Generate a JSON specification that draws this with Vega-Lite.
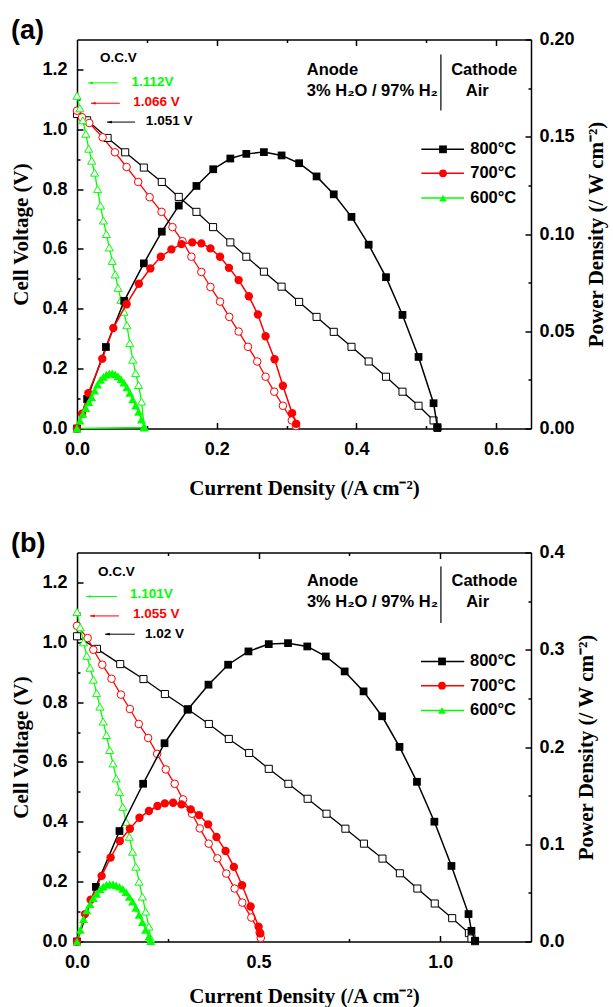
{
"$schema":"https://vega.github.io/schema/vega-lite/v6.json",
"padding":{"left":10,"top":16.5,"right":2,"bottom":2},
"spacing":31,
"config":{
 "view":{"stroke":null},
 "axis":{"labelFont":"Liberation Sans","labelFontWeight":"bold","labelFontSize":18,"labelColor":"#000","titleFont":"Liberation Serif","titleFontWeight":"bold","titleFontSize":21,"titleColor":"#000","domainColor":"#000","domainWidth":1.5,"tickColor":"#000","tickWidth":1.5,"grid":false,"labelFlush":false,"labelOverlap":false}
},
"datasets":{
 "a":[
  {"T":"800","s":"V","I":0,"y":1.051},{"T":"800","s":"V","I":0.0145,"y":1.03},{"T":"800","s":"V","I":0.0438,"y":0.971},{"T":"800","s":"V","I":0.069,"y":0.923},{"T":"800","s":"V","I":0.0957,"y":0.872},{"T":"800","s":"V","I":0.1214,"y":0.824},{"T":"800","s":"V","I":0.1457,"y":0.774},{"T":"800","s":"V","I":0.171,"y":0.724},{"T":"800","s":"V","I":0.1948,"y":0.673},{"T":"800","s":"V","I":0.2195,"y":0.622},{"T":"800","s":"V","I":0.2424,"y":0.574},{"T":"800","s":"V","I":0.2676,"y":0.524},{"T":"800","s":"V","I":0.2929,"y":0.474},{"T":"800","s":"V","I":0.318,"y":0.423},{"T":"800","s":"V","I":0.343,"y":0.373},{"T":"800","s":"V","I":0.3676,"y":0.323},{"T":"800","s":"V","I":0.393,"y":0.273},{"T":"800","s":"V","I":0.4176,"y":0.224},{"T":"800","s":"V","I":0.4424,"y":0.173},{"T":"800","s":"V","I":0.466,"y":0.123},{"T":"800","s":"V","I":0.489,"y":0.076},{"T":"800","s":"V","I":0.5105,"y":0.027},{"T":"800","s":"V","I":0.516,"y":0.002},
  {"T":"800","s":"P","I":0,"y":0},{"T":"800","s":"P","I":0.0145,"y":0.0152},{"T":"800","s":"P","I":0.0414,"y":0.0419},{"T":"800","s":"P","I":0.0676,"y":0.0656},{"T":"800","s":"P","I":0.0957,"y":0.0849},{"T":"800","s":"P","I":0.1214,"y":0.1012},{"T":"800","s":"P","I":0.1457,"y":0.1146},{"T":"800","s":"P","I":0.171,"y":0.1247},{"T":"800","s":"P","I":0.195,"y":0.1333},{"T":"800","s":"P","I":0.2195,"y":0.1388},{"T":"800","s":"P","I":0.2424,"y":0.1412},{"T":"800","s":"P","I":0.2676,"y":0.1421},{"T":"800","s":"P","I":0.2929,"y":0.1404},{"T":"800","s":"P","I":0.318,"y":0.1364},{"T":"800","s":"P","I":0.343,"y":0.1296},{"T":"800","s":"P","I":0.3676,"y":0.1204},{"T":"800","s":"P","I":0.393,"y":0.1088},{"T":"800","s":"P","I":0.4176,"y":0.0945},{"T":"800","s":"P","I":0.4424,"y":0.0778},{"T":"800","s":"P","I":0.466,"y":0.0584},{"T":"800","s":"P","I":0.489,"y":0.0368},{"T":"800","s":"P","I":0.5105,"y":0.013},{"T":"800","s":"P","I":0.516,"y":0.0007},
  {"T":"700","s":"V","I":0,"y":1.062},{"T":"700","s":"V","I":0.0072,"y":1.04},{"T":"700","s":"V","I":0.0176,"y":1.021},{"T":"700","s":"V","I":0.0367,"y":0.973},{"T":"700","s":"V","I":0.0543,"y":0.923},{"T":"700","s":"V","I":0.071,"y":0.874},{"T":"700","s":"V","I":0.0876,"y":0.824},{"T":"700","s":"V","I":0.104,"y":0.773},{"T":"700","s":"V","I":0.121,"y":0.724},{"T":"700","s":"V","I":0.1367,"y":0.673},{"T":"700","s":"V","I":0.151,"y":0.626},{"T":"700","s":"V","I":0.1638,"y":0.574},{"T":"700","s":"V","I":0.178,"y":0.523},{"T":"700","s":"V","I":0.191,"y":0.473},{"T":"700","s":"V","I":0.2048,"y":0.424},{"T":"700","s":"V","I":0.218,"y":0.373},{"T":"700","s":"V","I":0.2314,"y":0.324},{"T":"700","s":"V","I":0.2448,"y":0.273},{"T":"700","s":"V","I":0.258,"y":0.224},{"T":"700","s":"V","I":0.27,"y":0.173},{"T":"700","s":"V","I":0.2824,"y":0.123},{"T":"700","s":"V","I":0.2948,"y":0.076},{"T":"700","s":"V","I":0.3076,"y":0.027},{"T":"700","s":"V","I":0.3135,"y":0.008},
  {"T":"700","s":"P","I":0,"y":0},{"T":"700","s":"P","I":0.0072,"y":0.0076},{"T":"700","s":"P","I":0.0162,"y":0.0182},{"T":"700","s":"P","I":0.0362,"y":0.0359},{"T":"700","s":"P","I":0.052,"y":0.0517},{"T":"700","s":"P","I":0.071,"y":0.0639},{"T":"700","s":"P","I":0.0886,"y":0.0744},{"T":"700","s":"P","I":0.105,"y":0.0823},{"T":"700","s":"P","I":0.12,"y":0.0883},{"T":"700","s":"P","I":0.1352,"y":0.0921},{"T":"700","s":"P","I":0.1495,"y":0.0948},{"T":"700","s":"P","I":0.165,"y":0.0957},{"T":"700","s":"P","I":0.178,"y":0.0952},{"T":"700","s":"P","I":0.191,"y":0.0926},{"T":"700","s":"P","I":0.2048,"y":0.0883},{"T":"700","s":"P","I":0.2176,"y":0.0826},{"T":"700","s":"P","I":0.2314,"y":0.0763},{"T":"700","s":"P","I":0.246,"y":0.068},{"T":"700","s":"P","I":0.259,"y":0.0586},{"T":"700","s":"P","I":0.27,"y":0.0474},{"T":"700","s":"P","I":0.2829,"y":0.0356},{"T":"700","s":"P","I":0.2948,"y":0.022},{"T":"700","s":"P","I":0.308,"y":0.0079},{"T":"700","s":"P","I":0.3138,"y":0.0024},
  {"T":"600","s":"V","I":0,"y":1.112},{"T":"600","s":"V","I":0.0042,"y":1.07},{"T":"600","s":"V","I":0.0084,"y":1.03},{"T":"600","s":"V","I":0.0126,"y":0.985},{"T":"600","s":"V","I":0.0168,"y":0.935},{"T":"600","s":"V","I":0.021,"y":0.895},{"T":"600","s":"V","I":0.0252,"y":0.855},{"T":"600","s":"V","I":0.0294,"y":0.8},{"T":"600","s":"V","I":0.0336,"y":0.745},{"T":"600","s":"V","I":0.0378,"y":0.695},{"T":"600","s":"V","I":0.042,"y":0.65},{"T":"600","s":"V","I":0.0462,"y":0.605},{"T":"600","s":"V","I":0.0504,"y":0.56},{"T":"600","s":"V","I":0.0546,"y":0.515},{"T":"600","s":"V","I":0.0588,"y":0.47},{"T":"600","s":"V","I":0.063,"y":0.43},{"T":"600","s":"V","I":0.0672,"y":0.39},{"T":"600","s":"V","I":0.0714,"y":0.345},{"T":"600","s":"V","I":0.0756,"y":0.285},{"T":"600","s":"V","I":0.0798,"y":0.23},{"T":"600","s":"V","I":0.084,"y":0.185},{"T":"600","s":"V","I":0.0882,"y":0.145},{"T":"600","s":"V","I":0.0924,"y":0.09},{"T":"600","s":"V","I":0.0962,"y":0.005},
  {"T":"600","s":"P","I":0,"y":0},{"T":"600","s":"P","I":0.0042,"y":0.004},{"T":"600","s":"P","I":0.0084,"y":0.0075},{"T":"600","s":"P","I":0.0126,"y":0.0105},{"T":"600","s":"P","I":0.0168,"y":0.0135},{"T":"600","s":"P","I":0.021,"y":0.016},{"T":"600","s":"P","I":0.0252,"y":0.0195},{"T":"600","s":"P","I":0.0294,"y":0.0225},{"T":"600","s":"P","I":0.0336,"y":0.025},{"T":"600","s":"P","I":0.0378,"y":0.0266},{"T":"600","s":"P","I":0.042,"y":0.0277},{"T":"600","s":"P","I":0.0462,"y":0.0283},{"T":"600","s":"P","I":0.0504,"y":0.0283},{"T":"600","s":"P","I":0.0546,"y":0.0278},{"T":"600","s":"P","I":0.0588,"y":0.0268},{"T":"600","s":"P","I":0.063,"y":0.0254},{"T":"600","s":"P","I":0.0672,"y":0.0236},{"T":"600","s":"P","I":0.0714,"y":0.0212},{"T":"600","s":"P","I":0.0756,"y":0.0183},{"T":"600","s":"P","I":0.0798,"y":0.015},{"T":"600","s":"P","I":0.084,"y":0.0118},{"T":"600","s":"P","I":0.0882,"y":0.0085},{"T":"600","s":"P","I":0.0924,"y":0.0045},{"T":"600","s":"P","I":0.0962,"y":0.0005},{"T":"600","s":"P","I":0,"y":0}
 ],
 "b":[
  {"T":"800","s":"V","I":0,"y":1.02},{"T":"800","s":"V","I":0.055,"y":0.978},{"T":"800","s":"V","I":0.119,"y":0.927},{"T":"800","s":"V","I":0.183,"y":0.877},{"T":"800","s":"V","I":0.242,"y":0.827},{"T":"800","s":"V","I":0.305,"y":0.776},{"T":"800","s":"V","I":0.363,"y":0.727},{"T":"800","s":"V","I":0.418,"y":0.677},{"T":"800","s":"V","I":0.474,"y":0.63},{"T":"800","s":"V","I":0.528,"y":0.577},{"T":"800","s":"V","I":0.582,"y":0.527},{"T":"800","s":"V","I":0.635,"y":0.477},{"T":"800","s":"V","I":0.687,"y":0.427},{"T":"800","s":"V","I":0.739,"y":0.377},{"T":"800","s":"V","I":0.79,"y":0.327},{"T":"800","s":"V","I":0.841,"y":0.277},{"T":"800","s":"V","I":0.889,"y":0.228},{"T":"800","s":"V","I":0.937,"y":0.177},{"T":"800","s":"V","I":0.985,"y":0.127},{"T":"800","s":"V","I":1.033,"y":0.078},{"T":"800","s":"V","I":1.079,"y":0.028},{"T":"800","s":"V","I":1.086,"y":0.01},{"T":"800","s":"V","I":1.096,"y":0.001},
  {"T":"800","s":"P","I":0,"y":0},{"T":"800","s":"P","I":0.052,"y":0.0562},{"T":"800","s":"P","I":0.117,"y":0.1136},{"T":"800","s":"P","I":0.182,"y":0.1622},{"T":"800","s":"P","I":0.241,"y":0.2039},{"T":"800","s":"P","I":0.305,"y":0.2385},{"T":"800","s":"P","I":0.362,"y":0.2641},{"T":"800","s":"P","I":0.416,"y":0.2846},{"T":"800","s":"P","I":0.472,"y":0.2983},{"T":"800","s":"P","I":0.528,"y":0.3058},{"T":"800","s":"P","I":0.581,"y":0.3068},{"T":"800","s":"P","I":0.634,"y":0.3034},{"T":"800","s":"P","I":0.685,"y":0.2931},{"T":"800","s":"P","I":0.737,"y":0.2777},{"T":"800","s":"P","I":0.789,"y":0.2572},{"T":"800","s":"P","I":0.84,"y":0.2316},{"T":"800","s":"P","I":0.888,"y":0.2001},{"T":"800","s":"P","I":0.936,"y":0.1642},{"T":"800","s":"P","I":0.984,"y":0.1232},{"T":"800","s":"P","I":1.031,"y":0.0777},{"T":"800","s":"P","I":1.078,"y":0.0282},{"T":"800","s":"P","I":1.086,"y":0.011},{"T":"800","s":"P","I":1.096,"y":0.0008},
  {"T":"700","s":"V","I":0,"y":1.055},{"T":"700","s":"V","I":0.0293,"y":1.014},{"T":"700","s":"V","I":0.045,"y":0.975},{"T":"700","s":"V","I":0.0696,"y":0.925},{"T":"700","s":"V","I":0.095,"y":0.878},{"T":"700","s":"V","I":0.121,"y":0.825},{"T":"700","s":"V","I":0.1456,"y":0.777},{"T":"700","s":"V","I":0.17,"y":0.727},{"T":"700","s":"V","I":0.196,"y":0.68},{"T":"700","s":"V","I":0.2207,"y":0.627},{"T":"700","s":"V","I":0.2445,"y":0.575},{"T":"700","s":"V","I":0.269,"y":0.527},{"T":"700","s":"V","I":0.292,"y":0.475},{"T":"700","s":"V","I":0.3168,"y":0.427},{"T":"700","s":"V","I":0.338,"y":0.378},{"T":"700","s":"V","I":0.3626,"y":0.327},{"T":"700","s":"V","I":0.3865,"y":0.278},{"T":"700","s":"V","I":0.411,"y":0.227},{"T":"700","s":"V","I":0.434,"y":0.177},{"T":"700","s":"V","I":0.455,"y":0.13},{"T":"700","s":"V","I":0.48,"y":0.08},{"T":"700","s":"V","I":0.503,"y":0.03},{"T":"700","s":"V","I":0.506,"y":0.012},
  {"T":"700","s":"P","I":0,"y":0},{"T":"700","s":"P","I":0.022,"y":0.0282},{"T":"700","s":"P","I":0.0376,"y":0.0429},{"T":"700","s":"P","I":0.0678,"y":0.0675},{"T":"700","s":"P","I":0.0925,"y":0.0863},{"T":"700","s":"P","I":0.118,"y":0.1034},{"T":"700","s":"P","I":0.1456,"y":0.1159},{"T":"700","s":"P","I":0.172,"y":0.1272},{"T":"700","s":"P","I":0.198,"y":0.1342},{"T":"700","s":"P","I":0.2216,"y":0.1393},{"T":"700","s":"P","I":0.2418,"y":0.142},{"T":"700","s":"P","I":0.2646,"y":0.1427},{"T":"700","s":"P","I":0.2876,"y":0.141},{"T":"700","s":"P","I":0.313,"y":0.1359},{"T":"700","s":"P","I":0.336,"y":0.13},{"T":"700","s":"P","I":0.361,"y":0.1205},{"T":"700","s":"P","I":0.384,"y":0.1075},{"T":"700","s":"P","I":0.409,"y":0.0931},{"T":"700","s":"P","I":0.432,"y":0.0767},{"T":"700","s":"P","I":0.4545,"y":0.0578},{"T":"700","s":"P","I":0.478,"y":0.036},{"T":"700","s":"P","I":0.5,"y":0.0152},{"T":"700","s":"P","I":0.5046,"y":0.0083},
  {"T":"600","s":"V","I":0,"y":1.101},{"T":"600","s":"V","I":0.009,"y":1.05},{"T":"600","s":"V","I":0.018,"y":1.0},{"T":"600","s":"V","I":0.027,"y":0.955},{"T":"600","s":"V","I":0.036,"y":0.915},{"T":"600","s":"V","I":0.045,"y":0.875},{"T":"600","s":"V","I":0.054,"y":0.83},{"T":"600","s":"V","I":0.063,"y":0.785},{"T":"600","s":"V","I":0.072,"y":0.735},{"T":"600","s":"V","I":0.081,"y":0.69},{"T":"600","s":"V","I":0.09,"y":0.64},{"T":"600","s":"V","I":0.099,"y":0.595},{"T":"600","s":"V","I":0.108,"y":0.545},{"T":"600","s":"V","I":0.117,"y":0.5},{"T":"600","s":"V","I":0.126,"y":0.45},{"T":"600","s":"V","I":0.135,"y":0.4},{"T":"600","s":"V","I":0.144,"y":0.35},{"T":"600","s":"V","I":0.153,"y":0.3},{"T":"600","s":"V","I":0.162,"y":0.25},{"T":"600","s":"V","I":0.171,"y":0.2},{"T":"600","s":"V","I":0.18,"y":0.15},{"T":"600","s":"V","I":0.189,"y":0.1},{"T":"600","s":"V","I":0.198,"y":0.05},{"T":"600","s":"V","I":0.203,"y":0.01},
  {"T":"600","s":"P","I":0,"y":0},{"T":"600","s":"P","I":0.009,"y":0.012},{"T":"600","s":"P","I":0.018,"y":0.023},{"T":"600","s":"P","I":0.027,"y":0.032},{"T":"600","s":"P","I":0.036,"y":0.0385},{"T":"600","s":"P","I":0.045,"y":0.0445},{"T":"600","s":"P","I":0.054,"y":0.049},{"T":"600","s":"P","I":0.063,"y":0.0535},{"T":"600","s":"P","I":0.072,"y":0.0565},{"T":"600","s":"P","I":0.081,"y":0.0583},{"T":"600","s":"P","I":0.09,"y":0.059},{"T":"600","s":"P","I":0.099,"y":0.0588},{"T":"600","s":"P","I":0.108,"y":0.0578},{"T":"600","s":"P","I":0.117,"y":0.0563},{"T":"600","s":"P","I":0.126,"y":0.0541},{"T":"600","s":"P","I":0.135,"y":0.0508},{"T":"600","s":"P","I":0.144,"y":0.046},{"T":"600","s":"P","I":0.153,"y":0.041},{"T":"600","s":"P","I":0.162,"y":0.0345},{"T":"600","s":"P","I":0.171,"y":0.0275},{"T":"600","s":"P","I":0.18,"y":0.02},{"T":"600","s":"P","I":0.189,"y":0.012},{"T":"600","s":"P","I":0.198,"y":0.005},{"T":"600","s":"P","I":0.203,"y":0.0005}
 ],
 "annA":[{"txt":"O.C.V","I":0.033,"V":1.237,"T":"800"},{"txt":"1.112V","I":0.078,"V":1.157,"T":"600"},{"txt":"1.066 V","I":0.0805,"V":1.09,"T":"700"},{"txt":"1.051 V","I":0.0986,"V":1.027,"T":"800"}],
 "arrA":[{"I":0.016,"I2":0.0586,"V":1.155,"T":"600"},{"I":0.02,"I2":0.0614,"V":1.087,"T":"700"},{"I":0.043,"I2":0.083,"V":1.024,"T":"800"}],
 "boxA":[{"txt":"Anode","I":0.329,"V":1.199,"g":"l"},{"txt":"3% H₂O / 97% H₂","I":0.329,"V":1.127,"g":"l"},{"txt":"Cathode","I":0.583,"V":1.199,"g":"c"},{"txt":"Air","I":0.573,"V":1.127,"g":"c"}],
 "divA":[{"I":0.521,"V":1.063,"V2":1.25}],
 "legA":[{"T":"800","lab":"800°C","V":0.933},{"T":"700","lab":"700°C","V":0.853},{"T":"600","lab":"600°C","V":0.77}],
 "annB":[{"txt":"O.C.V","I":0.0577,"V":1.236,"T":"800"},{"txt":"1.101V","I":0.1456,"V":1.16,"T":"600"},{"txt":"1.055 V","I":0.154,"V":1.094,"T":"700"},{"txt":"1.02 V","I":0.187,"V":1.027,"T":"800"}],
 "arrB":[{"I":0.0247,"I2":0.11,"V":1.153,"T":"600"},{"I":0.0357,"I2":0.1154,"V":1.088,"T":"700"},{"I":0.077,"I2":0.159,"V":1.027,"T":"800"}],
 "boxB":[{"txt":"Anode","I":0.633,"V":1.205,"g":"l"},{"txt":"3% H₂O / 97% H₂","I":0.633,"V":1.136,"g":"l"},{"txt":"Cathode","I":1.122,"V":1.205,"g":"c"},{"txt":"Air","I":1.103,"V":1.136,"g":"c"}],
 "divB":[{"I":1.002,"V":1.064,"V2":1.253}],
 "legB":[{"T":"800","lab":"800°C","V":0.936},{"T":"700","lab":"700°C","V":0.855},{"T":"600","lab":"600°C","V":0.772}]
},
"vconcat":[
 {
  "title":{"text":"(a)","anchor":"start","frame":"bounds","font":"Liberation Sans","fontSize":27,"fontWeight":"bold","color":"#000","offset":0,"baseline":"alphabetic","dy":35},
  "width":454,"height":389,
  "layer":[
   {"layer":[
     {"data":{"name":"a"},"transform":[{"filter":"datum.s=='V'"}],"mark":{"type":"line","strokeWidth":1.3},
      "encoding":{
       "x":{"field":"I","type":"quantitative","scale":{"domain":[0,0.65],"nice":false,"zero":false},"axis":{"orient":"bottom","values":[0,0.2,0.4,0.6],"format":".1f","tickSize":-6,"labelPadding":17.5,"title":"Current Density (/A cm⁻²)","titlePadding":19}},
       "y":{"field":"y","type":"quantitative","scale":{"domain":[0,1.3],"nice":false},"axis":{"orient":"left","values":[0,0.2,0.4,0.6,0.8,1.0,1.2],"format":".1f","tickSize":-6,"labelPadding":16,"title":"Cell Voltage (V)","titlePadding":10}},
       "color":{"field":"T","type":"nominal","scale":{"domain":["800","700","600"],"range":["#000000","#ff0000","#00ff00"]},"legend":null},
       "order":{"value":null}}},
     {"data":{"name":"a"},"transform":[{"filter":"datum.s=='V'"}],"mark":{"type":"point","filled":false,"fill":"white","strokeWidth":1,"opacity":1},
      "encoding":{
       "x":{"field":"I","type":"quantitative","scale":{"domain":[0,0.65],"nice":false,"zero":false},"axis":{"orient":"bottom","values":[0.1,0.3,0.5],"tickSize":-3,"labels":false,"domain":false,"title":null}},
       "y":{"field":"y","type":"quantitative","scale":{"domain":[0,1.3],"nice":false},"axis":{"orient":"left","values":[0.1,0.3,0.5,0.7,0.9,1.1],"tickSize":-3,"labels":false,"domain":false,"title":null}},
       "color":{"field":"T","type":"nominal","scale":{"domain":["800","700","600"],"range":["#000000","#ff0000","#00ff00"]},"legend":null},
       "shape":{"field":"T","type":"nominal","scale":{"domain":["800","700","600"],"range":["square","circle","triangle-up"]},"legend":null},
       "size":{"field":"T","type":"nominal","scale":{"domain":["800","700","600"],"range":[50,65,110]},"legend":null}}},
     {"data":{"name":"arrA"},"mark":{"type":"rule","strokeWidth":1},
      "encoding":{"x":{"field":"I","type":"quantitative","scale":{"domain":[0,0.65],"nice":false,"zero":false},"axis":null},"x2":{"field":"I2"},
       "y":{"field":"V","type":"quantitative","scale":{"domain":[0,1.3],"nice":false},"axis":null},
       "color":{"field":"T","type":"nominal","scale":{"domain":["800","700","600"],"range":["#000000","#ff0000","#00ff00"]},"legend":null}}},
     {"data":{"name":"arrA"},"mark":{"type":"point","shape":"M0,0L1.6,-0.45L1.6,0.45Z","filled":true,"opacity":1,"size":36},
      "encoding":{"x":{"field":"I","type":"quantitative","scale":{"domain":[0,0.65],"nice":false,"zero":false},"axis":null},
       "y":{"field":"V","type":"quantitative","scale":{"domain":[0,1.3],"nice":false},"axis":null},
       "color":{"field":"T","type":"nominal","scale":{"domain":["800","700","600"],"range":["#000000","#ff0000","#00ff00"]},"legend":null}}},
     {"data":{"name":"annA"},"mark":{"type":"text","font":"Liberation Sans","fontWeight":"bold","fontSize":13.5,"align":"left","baseline":"middle"},
      "encoding":{"x":{"field":"I","type":"quantitative","scale":{"domain":[0,0.65],"nice":false,"zero":false},"axis":null},
       "y":{"field":"V","type":"quantitative","scale":{"domain":[0,1.3],"nice":false},"axis":null},
       "text":{"field":"txt"},
       "color":{"field":"T","type":"nominal","scale":{"domain":["800","700","600"],"range":["#000000","#ff0000","#00ff00"]},"legend":null}}},
     {"data":{"name":"boxA"},"transform":[{"filter":"datum.g=='l'"}],"mark":{"type":"text","font":"Liberation Sans","fontWeight":"bold","fontSize":16.5,"align":"left","baseline":"middle","color":"#000"},
      "encoding":{"x":{"field":"I","type":"quantitative","scale":{"domain":[0,0.65],"nice":false,"zero":false},"axis":null},
       "y":{"field":"V","type":"quantitative","scale":{"domain":[0,1.3],"nice":false},"axis":null},"text":{"field":"txt"}}},
     {"data":{"name":"boxA"},"transform":[{"filter":"datum.g=='c'"}],"mark":{"type":"text","font":"Liberation Sans","fontWeight":"bold","fontSize":16.5,"align":"center","baseline":"middle","color":"#000"},
      "encoding":{"x":{"field":"I","type":"quantitative","scale":{"domain":[0,0.65],"nice":false,"zero":false},"axis":null},
       "y":{"field":"V","type":"quantitative","scale":{"domain":[0,1.3],"nice":false},"axis":null},"text":{"field":"txt"}}},
     {"data":{"name":"divA"},"mark":{"type":"rule","strokeWidth":1.2,"color":"#000"},
      "encoding":{"x":{"field":"I","type":"quantitative","scale":{"domain":[0,0.65],"nice":false,"zero":false},"axis":null},
       "y":{"field":"V","type":"quantitative","scale":{"domain":[0,1.3],"nice":false},"axis":null},"y2":{"field":"V2"}}},
     {"data":{"name":"legA"},"mark":{"type":"rule","strokeWidth":1.5},
      "encoding":{"x":{"datum":0.493,"type":"quantitative","scale":{"domain":[0,0.65],"nice":false,"zero":false},"axis":null},"x2":{"datum":0.554},
       "y":{"field":"V","type":"quantitative","scale":{"domain":[0,1.3],"nice":false},"axis":null},
       "color":{"field":"T","type":"nominal","scale":{"domain":["800","700","600"],"range":["#000000","#ff0000","#00ff00"]},"legend":null}}},
     {"data":{"name":"legA"},"mark":{"type":"point","filled":true,"opacity":1,"size":60},
      "encoding":{"x":{"datum":0.524,"type":"quantitative","scale":{"domain":[0,0.65],"nice":false,"zero":false},"axis":null},
       "y":{"field":"V","type":"quantitative","scale":{"domain":[0,1.3],"nice":false},"axis":null},
       "color":{"field":"T","type":"nominal","scale":{"domain":["800","700","600"],"range":["#000000","#ff0000","#00ff00"]},"legend":null},
       "shape":{"field":"T","type":"nominal","scale":{"domain":["800","700","600"],"range":["square","circle","triangle-up"]},"legend":null}}},
     {"data":{"name":"legA"},"mark":{"type":"text","font":"Liberation Sans","fontWeight":"bold","fontSize":16.5,"align":"left","baseline":"middle","color":"#000"},
      "encoding":{"x":{"datum":0.563,"type":"quantitative","scale":{"domain":[0,0.65],"nice":false,"zero":false},"axis":null},
       "y":{"field":"V","type":"quantitative","scale":{"domain":[0,1.3],"nice":false},"axis":null},"text":{"field":"lab"}}}
    ],
    "resolve":{"axis":{"x":"independent","y":"independent"}}},
   {"layer":[
     {"data":{"name":"a"},"transform":[{"filter":"datum.s=='P'"}],"mark":{"type":"line","strokeWidth":1.5},
      "encoding":{
       "x":{"field":"I","type":"quantitative","scale":{"domain":[0,0.65],"nice":false,"zero":false},"axis":{"orient":"top","values":[0.2,0.4,0.6],"tickSize":-6,"labels":false,"title":null}},
       "y":{"field":"y","type":"quantitative","scale":{"domain":[0,0.2],"nice":false},"axis":{"orient":"right","values":[0,0.05,0.1,0.15,0.2],"format":".2f","tickSize":-6,"labelPadding":14,"title":"Power Density (/ W cm⁻²)","titleAngle":270,"titleBaseline":"top","titlePadding":11}},
       "color":{"field":"T","type":"nominal","scale":{"domain":["800","700","600"],"range":["#000000","#ff0000","#00ff00"]},"legend":null},
       "order":{"value":null}}},
     {"data":{"name":"a"},"transform":[{"filter":"datum.s=='P'"}],"mark":{"type":"point","filled":true,"opacity":1},
      "encoding":{
       "x":{"field":"I","type":"quantitative","scale":{"domain":[0,0.65],"nice":false,"zero":false},"axis":{"orient":"top","values":[0.1,0.3,0.5],"tickSize":-3,"labels":false,"domain":false,"title":null}},
       "y":{"field":"y","type":"quantitative","scale":{"domain":[0,0.2],"nice":false},"axis":{"orient":"right","values":[0.025,0.075,0.125,0.175],"tickSize":-3,"labels":false,"domain":false,"title":null}},
       "color":{"field":"T","type":"nominal","scale":{"domain":["800","700","600"],"range":["#000000","#ff0000","#00ff00"]},"legend":null},
       "shape":{"field":"T","type":"nominal","scale":{"domain":["800","700","600"],"range":["square","circle","triangle-up"]},"legend":null},
       "size":{"field":"T","type":"nominal","scale":{"domain":["800","700","600"],"range":[60,80,55]},"legend":null}}}
    ],
    "resolve":{"axis":{"x":"independent","y":"independent"}}}
  ],
  "resolve":{"scale":{"y":"independent","size":"independent"},"axis":{"x":"independent","y":"independent"}}
 },
 {
  "title":{"text":"(b)","anchor":"start","frame":"bounds","font":"Liberation Sans","fontSize":27,"fontWeight":"bold","color":"#000","offset":0,"baseline":"alphabetic","dy":35},
  "width":454,"height":389,
  "layer":[
   {"layer":[
     {"data":{"name":"b"},"transform":[{"filter":"datum.s=='V'"}],"mark":{"type":"line","strokeWidth":1.3},
      "encoding":{
       "x":{"field":"I","type":"quantitative","scale":{"domain":[0,1.25],"nice":false,"zero":false},"axis":{"orient":"bottom","values":[0,0.5,1.0],"format":".1f","tickSize":-6,"labelPadding":17.5,"title":"Current Density (/A cm⁻²)","titlePadding":14}},
       "y":{"field":"y","type":"quantitative","scale":{"domain":[0,1.3],"nice":false},"axis":{"orient":"left","values":[0,0.2,0.4,0.6,0.8,1.0,1.2],"format":".1f","tickSize":-6,"labelPadding":16,"title":"Cell Voltage (V)","titlePadding":10}},
       "color":{"field":"T","type":"nominal","scale":{"domain":["800","700","600"],"range":["#000000","#ff0000","#00ff00"]},"legend":null},
       "order":{"value":null}}},
     {"data":{"name":"b"},"transform":[{"filter":"datum.s=='V'"}],"mark":{"type":"point","filled":false,"fill":"white","strokeWidth":1,"opacity":1},
      "encoding":{
       "x":{"field":"I","type":"quantitative","scale":{"domain":[0,1.25],"nice":false,"zero":false},"axis":{"orient":"bottom","values":[0.25,0.75],"tickSize":-3,"labels":false,"domain":false,"title":null}},
       "y":{"field":"y","type":"quantitative","scale":{"domain":[0,1.3],"nice":false},"axis":{"orient":"left","values":[0.1,0.3,0.5,0.7,0.9,1.1],"tickSize":-3,"labels":false,"domain":false,"title":null}},
       "color":{"field":"T","type":"nominal","scale":{"domain":["800","700","600"],"range":["#000000","#ff0000","#00ff00"]},"legend":null},
       "shape":{"field":"T","type":"nominal","scale":{"domain":["800","700","600"],"range":["square","circle","triangle-up"]},"legend":null},
       "size":{"field":"T","type":"nominal","scale":{"domain":["800","700","600"],"range":[50,65,110]},"legend":null}}},
     {"data":{"name":"arrB"},"mark":{"type":"rule","strokeWidth":1},
      "encoding":{"x":{"field":"I","type":"quantitative","scale":{"domain":[0,1.25],"nice":false,"zero":false},"axis":null},"x2":{"field":"I2"},
       "y":{"field":"V","type":"quantitative","scale":{"domain":[0,1.3],"nice":false},"axis":null},
       "color":{"field":"T","type":"nominal","scale":{"domain":["800","700","600"],"range":["#000000","#ff0000","#00ff00"]},"legend":null}}},
     {"data":{"name":"arrB"},"mark":{"type":"point","shape":"M0,0L1.6,-0.45L1.6,0.45Z","filled":true,"opacity":1,"size":36},
      "encoding":{"x":{"field":"I","type":"quantitative","scale":{"domain":[0,1.25],"nice":false,"zero":false},"axis":null},
       "y":{"field":"V","type":"quantitative","scale":{"domain":[0,1.3],"nice":false},"axis":null},
       "color":{"field":"T","type":"nominal","scale":{"domain":["800","700","600"],"range":["#000000","#ff0000","#00ff00"]},"legend":null}}},
     {"data":{"name":"annB"},"mark":{"type":"text","font":"Liberation Sans","fontWeight":"bold","fontSize":13.5,"align":"left","baseline":"middle"},
      "encoding":{"x":{"field":"I","type":"quantitative","scale":{"domain":[0,1.25],"nice":false,"zero":false},"axis":null},
       "y":{"field":"V","type":"quantitative","scale":{"domain":[0,1.3],"nice":false},"axis":null},
       "text":{"field":"txt"},
       "color":{"field":"T","type":"nominal","scale":{"domain":["800","700","600"],"range":["#000000","#ff0000","#00ff00"]},"legend":null}}},
     {"data":{"name":"boxB"},"transform":[{"filter":"datum.g=='l'"}],"mark":{"type":"text","font":"Liberation Sans","fontWeight":"bold","fontSize":16.5,"align":"left","baseline":"middle","color":"#000"},
      "encoding":{"x":{"field":"I","type":"quantitative","scale":{"domain":[0,1.25],"nice":false,"zero":false},"axis":null},
       "y":{"field":"V","type":"quantitative","scale":{"domain":[0,1.3],"nice":false},"axis":null},"text":{"field":"txt"}}},
     {"data":{"name":"boxB"},"transform":[{"filter":"datum.g=='c'"}],"mark":{"type":"text","font":"Liberation Sans","fontWeight":"bold","fontSize":16.5,"align":"center","baseline":"middle","color":"#000"},
      "encoding":{"x":{"field":"I","type":"quantitative","scale":{"domain":[0,1.25],"nice":false,"zero":false},"axis":null},
       "y":{"field":"V","type":"quantitative","scale":{"domain":[0,1.3],"nice":false},"axis":null},"text":{"field":"txt"}}},
     {"data":{"name":"divB"},"mark":{"type":"rule","strokeWidth":1.2,"color":"#000"},
      "encoding":{"x":{"field":"I","type":"quantitative","scale":{"domain":[0,1.25],"nice":false,"zero":false},"axis":null},
       "y":{"field":"V","type":"quantitative","scale":{"domain":[0,1.3],"nice":false},"axis":null},"y2":{"field":"V2"}}},
     {"data":{"name":"legB"},"mark":{"type":"rule","strokeWidth":1.5},
      "encoding":{"x":{"datum":0.947,"type":"quantitative","scale":{"domain":[0,1.25],"nice":false,"zero":false},"axis":null},"x2":{"datum":1.066},
       "y":{"field":"V","type":"quantitative","scale":{"domain":[0,1.3],"nice":false},"axis":null},
       "color":{"field":"T","type":"nominal","scale":{"domain":["800","700","600"],"range":["#000000","#ff0000","#00ff00"]},"legend":null}}},
     {"data":{"name":"legB"},"mark":{"type":"point","filled":true,"opacity":1,"size":60},
      "encoding":{"x":{"datum":1.005,"type":"quantitative","scale":{"domain":[0,1.25],"nice":false,"zero":false},"axis":null},
       "y":{"field":"V","type":"quantitative","scale":{"domain":[0,1.3],"nice":false},"axis":null},
       "color":{"field":"T","type":"nominal","scale":{"domain":["800","700","600"],"range":["#000000","#ff0000","#00ff00"]},"legend":null},
       "shape":{"field":"T","type":"nominal","scale":{"domain":["800","700","600"],"range":["square","circle","triangle-up"]},"legend":null}}},
     {"data":{"name":"legB"},"mark":{"type":"text","font":"Liberation Sans","fontWeight":"bold","fontSize":16.5,"align":"left","baseline":"middle","color":"#000"},
      "encoding":{"x":{"datum":1.082,"type":"quantitative","scale":{"domain":[0,1.25],"nice":false,"zero":false},"axis":null},
       "y":{"field":"V","type":"quantitative","scale":{"domain":[0,1.3],"nice":false},"axis":null},"text":{"field":"lab"}}}
    ],
    "resolve":{"axis":{"x":"independent","y":"independent"}}},
   {"layer":[
     {"data":{"name":"b"},"transform":[{"filter":"datum.s=='P'"}],"mark":{"type":"line","strokeWidth":1.5},
      "encoding":{
       "x":{"field":"I","type":"quantitative","scale":{"domain":[0,1.25],"nice":false,"zero":false},"axis":{"orient":"top","values":[0.5,1.0],"tickSize":-6,"labels":false,"title":null}},
       "y":{"field":"y","type":"quantitative","scale":{"domain":[0,0.4],"nice":false},"axis":{"orient":"right","values":[0,0.1,0.2,0.3,0.4],"format":".1f","tickSize":-6,"labelPadding":14,"title":"Power Density (/ W cm⁻²)","titleAngle":270,"titleBaseline":"top","titlePadding":11}},
       "color":{"field":"T","type":"nominal","scale":{"domain":["800","700","600"],"range":["#000000","#ff0000","#00ff00"]},"legend":null},
       "order":{"value":null}}},
     {"data":{"name":"b"},"transform":[{"filter":"datum.s=='P'"}],"mark":{"type":"point","filled":true,"opacity":1},
      "encoding":{
       "x":{"field":"I","type":"quantitative","scale":{"domain":[0,1.25],"nice":false,"zero":false},"axis":{"orient":"top","values":[0.25,0.75],"tickSize":-3,"labels":false,"domain":false,"title":null}},
       "y":{"field":"y","type":"quantitative","scale":{"domain":[0,0.4],"nice":false},"axis":{"orient":"right","values":[0.05,0.15,0.25,0.35],"tickSize":-3,"labels":false,"domain":false,"title":null}},
       "color":{"field":"T","type":"nominal","scale":{"domain":["800","700","600"],"range":["#000000","#ff0000","#00ff00"]},"legend":null},
       "shape":{"field":"T","type":"nominal","scale":{"domain":["800","700","600"],"range":["square","circle","triangle-up"]},"legend":null},
       "size":{"field":"T","type":"nominal","scale":{"domain":["800","700","600"],"range":[60,80,55]},"legend":null}}}
    ],
    "resolve":{"axis":{"x":"independent","y":"independent"}}}
  ],
  "resolve":{"scale":{"y":"independent","size":"independent"},"axis":{"x":"independent","y":"independent"}}
 }
]
}
